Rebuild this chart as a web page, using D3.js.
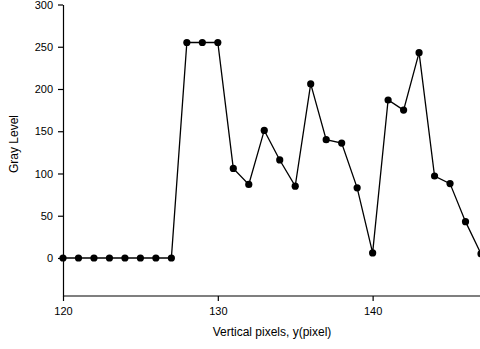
<!DOCTYPE html>
<html>
<head>
<meta charset="utf-8">
<script src="https://cdn.jsdelivr.net/npm/d3@7"></script>
<style>
  body { margin: 0; background: #fff; }
  svg { display: block; font-family: Arial, "Liberation Sans", sans-serif; }
  .axis path, .axis line { stroke: #000; stroke-width: 1.2; }
  .axis text { font-size: 11px; fill: #000; }
</style>
</head>
<body>
<script>
// pixel positions along y and their gray values
var pixels = [120,121,122,123,124,125,126,127,128,129,130,131,132,133,
              134,135,136,137,138,139,140,141,142,143,144,145,146,147];
var grayLevel = [0,0,0,0,0,0,0,0,255,255,255,106,87,151,
                 116,85,206,140,136,83,6,187,175,243,97,88,43,5];
var xTicks = [120, 130, 140];
var yTicks = [0, 50, 100, 150, 200, 250, 300];

var width = 480, height = 349;

var svg = d3.select("body")
			.append("svg")
			.attr("width", width)
			.attr("height", height);

var x = d3.scaleLinear().domain([120, 147]).range([63, 481]);
var y = d3.scaleLinear().domain([-45, 300]).range([296, 4.5]);

// axes
svg.append("g")
	.attr("class", "axis")
	.attr("transform", "translate(0,296)")
	.call(d3.axisBottom(x).tickValues(xTicks).tickSize(5).tickPadding(6).tickSizeOuter(0))
	.call(function(g){ g.select(".domain").attr("d", "M63,0H480"); });

svg.append("g")
	.attr("class", "axis")
	.attr("transform", "translate(63,0)")
	.call(d3.axisLeft(y).tickValues(yTicks).tickSize(5).tickPadding(5).tickSizeOuter(0));

// line + markers
var line = d3.line()
		.x(function(d, i){ return x(pixels[i]); })
		.y(function(d){ return y(d); });

svg.append("path")
	.datum(grayLevel)
	.attr("d", line)
	.style("fill", "none")
	.style("stroke", "black")
	.style("stroke-width", 1.3);

svg.selectAll("circle.pt")
	.data(grayLevel)
	.enter()
	.append("circle")
	.attr("class", "pt")
	.attr("cx", function(d, i){ return x(pixels[i]); })
	.attr("cy", function(d){ return y(d); })
	.attr("r", 3.6)
	.style("fill", "black");

// axis titles
svg.append("text")
	.attr("x", 272)
	.attr("y", 336)
	.attr("text-anchor", "middle")
	.style("font-size", "12px")
	.text("Vertical pixels, y(pixel)");

svg.append("text")
	.attr("transform", "translate(18,144) rotate(-90)")
	.attr("text-anchor", "middle")
	.style("font-size", "12px")
	.text("Gray Level");
</script>
</body>
</html>
